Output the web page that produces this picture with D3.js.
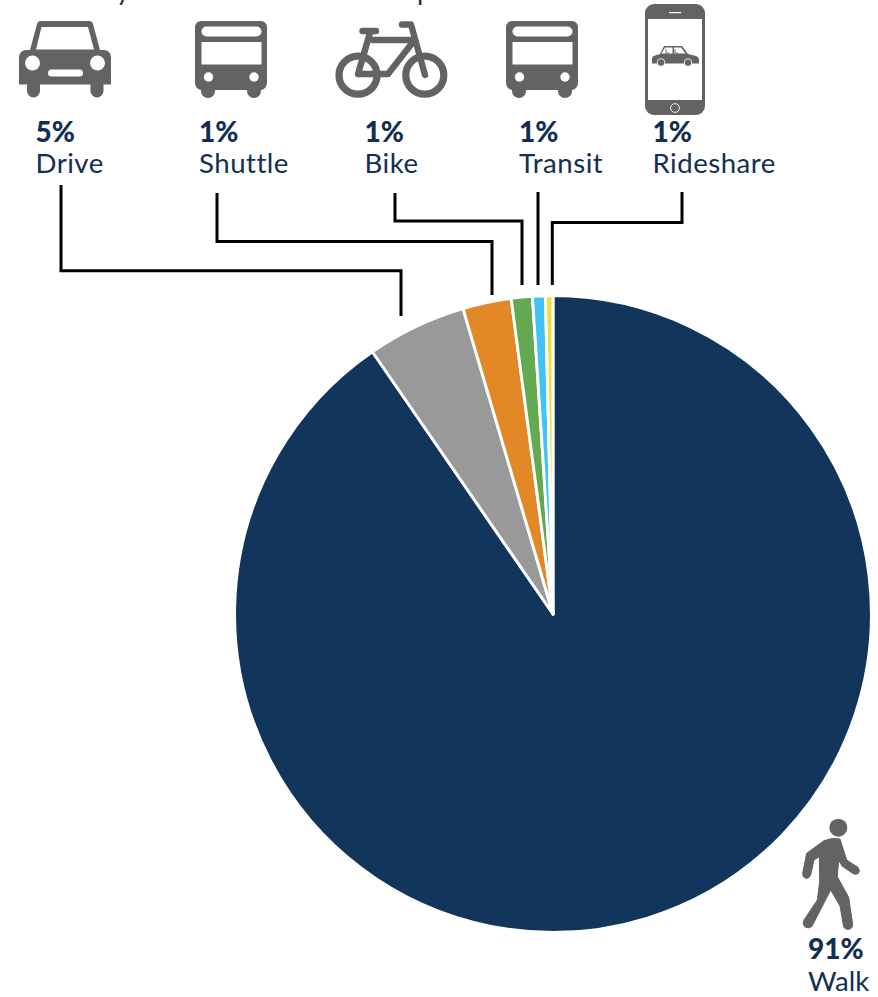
<!DOCTYPE html>
<html><head><meta charset="utf-8">
<script src="https://cdn.jsdelivr.net/npm/d3@7"></script>
<style>html,body{margin:0;padding:0;background:#fff;overflow:hidden}svg{display:block}</style>
</head><body><div id="chart"></div>
<script>
const categories = ["Walk","Drive","Shuttle","Bike","Transit","Rideshare"];
const shares = [90.4,5.04,2.46,1.07,0.65,0.38];
const labels = ["91%","5%","1%","1%","1%","1%"];
const colors = ["#12355b","#999999","#e28826","#62a951","#41c4f5","#ebe13a"];
const titleText = "Primary commute mode to campus";

const W=878,H=997, cx=553, cy=614, R=318.4;
const labelX = {Walk:808,Drive:35.5,Shuttle:199,Bike:364.5,Transit:519,Rideshare:652.5};
const connectors = {
  Drive:[[61,185],[61,270.7],[401,270.7],[401,316]],
  Shuttle:[[217,193],[217,241.5],[492,241.5],[492,295]],
  Bike:[[395,193],[395,221],[522,221],[522,285]],
  Transit:[[538,192],[538,285]],
  Rideshare:[[682,192],[682,222.5],[552.3,222.5],[552.3,285]]
};
const INK="#122f52", GREY="#636363";

const svg=d3.select("#chart").append("svg").attr("width",W).attr("height",H).attr("viewBox",[0,0,W,H]);

// clipped title
svg.append("text").attr("x",36).attr("y",-0.5).attr("font-family","Lato, sans-serif").attr("font-size",27).attr("letter-spacing",0.4).attr("fill",INK).text(titleText);

// pie
const pie=d3.pie().value((d,i)=>shares[i]).sort(null);
const arc=d3.arc().innerRadius(0).outerRadius(R);
svg.append("g").attr("transform",`translate(${cx},${cy})`)
  .selectAll("path").data(pie(categories)).join("path")
  .attr("d",arc).attr("fill",(d,i)=>colors[i]).attr("stroke","#fff").attr("stroke-width",2.9).attr("stroke-linejoin","round");

// connectors
const line=d3.line();
svg.append("g").selectAll("path").data(Object.values(connectors)).join("path")
  .attr("d",line).attr("fill","none").attr("stroke","#000").attr("stroke-width",3).attr("stroke-linejoin","miter");

// labels
const lab=svg.append("g").attr("font-family","Lato, sans-serif").attr("fill",INK);
categories.forEach((c,i)=>{
  const y = c==="Walk"?959:141.5;
  lab.append("text").attr("x",labelX[c]).attr("y",y).attr("font-size",28).attr("font-weight",900).text(labels[i]);
  lab.append("text").attr("x",labelX[c]).attr("y",y+31.5).attr("font-size",27.6).attr("letter-spacing",c==="Walk"?0:0.5).attr("font-weight",400).text(c);
});

// icons
const icons=svg.append("g");
function bus(x){
  const g=icons.append("g").attr("transform",`translate(${x},0)`);
  g.append("path").attr("fill",GREY).attr("d","M7,21H66a6,6 0 0 1 6,6V83a7,7 0 0 1-6,7V91a7,7 0 0 1-14,0V90H20V91a7,7 0 0 1-14,0V90a7,7 0 0 1-6,-7V27a6,6 0 0 1 6,-6Z");
  g.append("rect").attr("x",6.5).attr("y",26.5).attr("width",60).attr("height",10).attr("rx",5).attr("fill","#fff");
  g.append("rect").attr("x",6.5).attr("y",42).attr("width",60).attr("height",22.5).attr("fill","#fff");
  [13.5,59].forEach(cxx=>g.append("circle").attr("cx",cxx).attr("cy",77).attr("r",4.7).attr("fill","#fff"));
}
bus(195); bus(506);

// car
const car=icons.append("g");
car.append("path").attr("fill",GREY).attr("d","M41,21H89a4,4 0 0 1 4,3L100,50H104a7,7 0 0 1 7,7V84.500H103.500V91a6.500,6.500 0 0 1-13,0V84.500H40V91a6.500,6.500 0 0 1-13,0V84.500H19V57a7,7 0 0 1 7,-7H30L37,24a4,4 0 0 1 4,-3Z");
car.append("path").attr("fill","#fff").attr("d","M41.500,27H88L94,49.500H36Z");
[32.5,97.5].forEach(x=>car.append("circle").attr("cx",x).attr("cy",63).attr("r",7.5).attr("fill","#fff"));
car.append("rect").attr("x",48).attr("y",69.5).attr("width",35).attr("height",7).attr("rx",3.5).attr("fill","#fff");

// bike
const bike=icons.append("g").attr("fill","none").attr("stroke",GREY).attr("stroke-linecap","round").attr("stroke-linejoin","round");
[[358,75.2],[424.8,75.2]].forEach(([x,y])=>bike.append("circle").attr("cx",x).attr("cy",y).attr("r",19).attr("stroke-width",7.2));
bike.append("path").attr("stroke-width",6.4).attr("d","M402,24.500H411L425,75M373,40H413M388,74L413,42M388,74H358L370.500,31M362.500,31H376");

// phone
const ph=icons.append("g");
ph.append("rect").attr("x",645).attr("y",4).attr("width",60).attr("height",111).attr("rx",9).attr("fill",GREY);
ph.append("rect").attr("x",648).attr("y",19).attr("width",54).attr("height",81).attr("fill","#fff");
ph.append("rect").attr("x",669).attr("y",12).attr("width",12).attr("height",1.2).attr("fill","#fff");
ph.append("circle").attr("cx",675).attr("cy",108).attr("r",4.4).attr("fill","none").attr("stroke","#fff").attr("stroke-width",0.9);
ph.append("path").attr("fill",GREY).attr("d","M652,63.500V59Q652,56 655,55.500L660,54L664,46H682L688,54L696,56Q699,57 699,60V63.500Z");
ph.append("path").attr("fill","#fff").attr("d","M665,47.500H672.500V53.500H661.500ZM674,47.500H681L685.500,53.500H674Z");
ph.append("path").attr("fill","none").attr("stroke",GREY).attr("stroke-width",0.9).attr("d","M666,49V53H669M675,49V53H678");
[661,688].forEach(x=>ph.append("circle").attr("cx",x).attr("cy",62.5).attr("r",3.8).attr("fill",GREY).attr("stroke","#fff").attr("stroke-width",0.8));

// walker (drawn at 3x of the crop, scaled down)
const w=icons.append("g").attr("transform","translate(790,810) scale(0.3333)");
w.append("circle").attr("cx",145).attr("cy",53).attr("r",27).attr("fill",GREY);
w.append("path").attr("fill",GREY).attr("stroke",GREY).attr("stroke-width",3).attr("stroke-linejoin","round")
 .attr("d","M102,92Q125,82 150,87L170,150L204,172Q212,182 205,190Q197,196 188,190L156,168L146,150L142,200L176,262L188,343Q188,358 174,358Q161,358 160,345L150,288L122,240L66,349Q55,358 44,350Q36,342 42,330L82,270L89,215L88,140L72,150L62,195Q58,206 48,205Q37,203 38,190L50,130Z");
</script></body></html>
